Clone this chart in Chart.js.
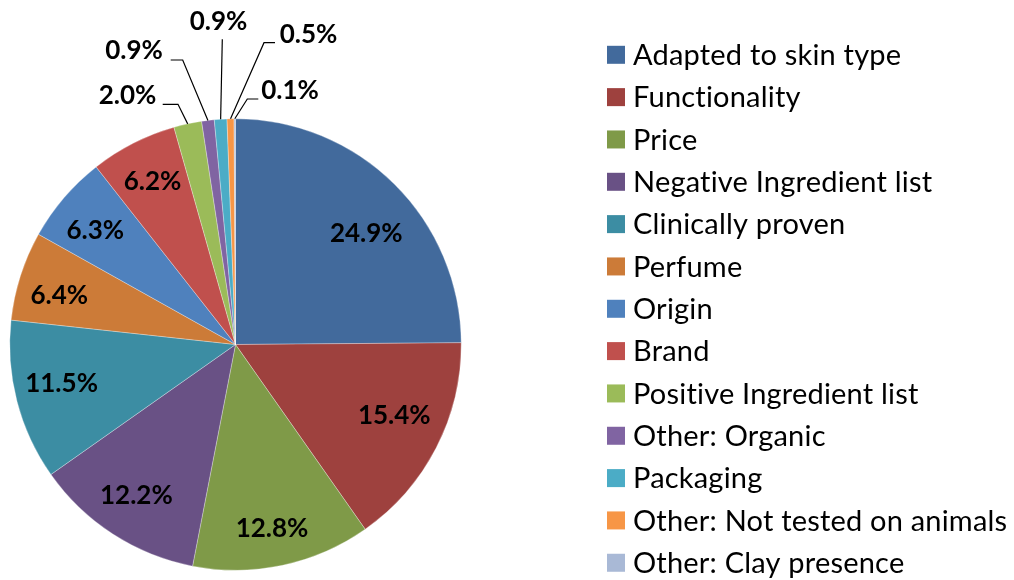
<!DOCTYPE html>
<html>
<head>
<meta charset="utf-8">
<script src="https://cdn.jsdelivr.net/npm/chart.js@4.4.1/dist/chart.umd.min.js"></script>
<style>
  html, body { margin: 0; padding: 0; background: #ffffff; }
  #wrap { width: 1014px; height: 580px; position: relative; }
</style>
</head>
<body>
<div id="wrap"><canvas id="c" width="1014" height="580"></canvas></div>
<script>
// Purchase criteria, share of mentions (%)
const categories = [
  'Adapted to skin type', 'Functionality', 'Price', 'Negative Ingredient list',
  'Clinically proven', 'Perfume', 'Origin', 'Brand', 'Positive Ingredient list',
  'Other: Organic', 'Packaging', 'Other: Not tested on animals', 'Other: Clay presence'
];
const shares = [24.9, 15.4, 12.8, 12.2, 11.5, 6.4, 6.3, 6.2, 2.0, 0.9, 0.9, 0.5, 0.1];
const sliceColors = [
  '#426A9C', '#9E413E', '#7F9A48', '#695185', '#3C8DA3', '#CC7B38', '#4F81BD',
  '#C0504D', '#9BBB59', '#8064A2', '#4BACC6', '#F79646', '#A9B9D6'
];

const FONT = 'Lato, "Open Sans", "DejaVu Sans", sans-serif';

// Label placement for the larger slices: angle shift (deg) and fraction of radius
const insidePlacement = {
  0: [4.9, 0.76], 1: [-3.2, 0.77], 2: [0.8, 0.83], 3: [0.4, 0.80],
  4: [1.7, 0.79], 5: [-2.2, 0.81], 6: [-1.5, 0.80], 7: [0, 0.81]
};
// Callouts for the thin slices: label centre and elbow of the leader line
const calloutPlacement = {
  8:  { label: [127.5, 96],  elbow: [[162.7, 104.3], [178, 104.3]] },
  9:  { label: [134, 51],    elbow: [[170.7, 60], [182.7, 60]] },
  10: { label: [218.5, 22],  elbow: [[222.3, 39.3]] },
  11: { label: [308.5, 35],  elbow: [[275, 42.7], [264, 42.7]] },
  12: { label: [290, 91],    elbow: [[258.3, 99], [247.3, 99]] }
};

const pieLabels = {
  id: 'pieLabels',
  afterDatasetsDraw(chart) {
    const ctx = chart.ctx;
    const arcs = chart.getDatasetMeta(0).data;
    const values = chart.data.datasets[0].data;
    ctx.save();
    ctx.font = 'bold 26px ' + FONT;
    ctx.fillStyle = '#000000';
    ctx.textAlign = 'center';
    ctx.textBaseline = 'middle';
    arcs.forEach((arc, i) => {
      const p = arc.getProps(['x', 'y', 'startAngle', 'endAngle', 'outerRadius'], true);
      const mid = (p.startAngle + p.endAngle) / 2;
      const text = values[i].toFixed(1) + '%';
      if (insidePlacement[i]) {
        const [shift, frac] = insidePlacement[i];
        const a = mid + shift * Math.PI / 180;
        ctx.fillText(text, p.x + Math.cos(a) * p.outerRadius * frac,
                           p.y + Math.sin(a) * p.outerRadius * frac);
      } else if (calloutPlacement[i]) {
        const c = calloutPlacement[i];
        const ex = p.x + Math.cos(mid) * p.outerRadius;
        const ey = p.y + Math.sin(mid) * p.outerRadius;
        ctx.beginPath();
        ctx.strokeStyle = '#000000';
        ctx.lineWidth = 1.2;
        ctx.moveTo(c.elbow[0][0], c.elbow[0][1]);
        for (let k = 1; k < c.elbow.length; k++) ctx.lineTo(c.elbow[k][0], c.elbow[k][1]);
        ctx.lineTo(ex, ey);
        ctx.stroke();
        ctx.fillText(text, c.label[0], c.label[1]);
      }
    });
    ctx.restore();
  }
};

const sideLegend = {
  id: 'sideLegend',
  afterDraw(chart) {
    const ctx = chart.ctx;
    const labels = chart.data.labels;
    const colors = chart.data.datasets[0].backgroundColor;
    ctx.save();
    ctx.font = '29px ' + FONT;
    ctx.letterSpacing = '0.2px';
    ctx.textAlign = 'left';
    ctx.textBaseline = 'middle';
    labels.forEach((lab, i) => {
      const cy = 54.8 + i * 42.33;
      ctx.fillStyle = colors[i];
      ctx.fillRect(607, cy - 9, 18, 18);
      ctx.fillStyle = '#000000';
      ctx.fillText(lab, 633, cy + 1);
    });
    ctx.restore();
  }
};

new Chart(document.getElementById('c'), {
  type: 'pie',
  data: {
    labels: categories,
    datasets: [{
      data: shares,
      backgroundColor: sliceColors,
      borderColor: 'rgba(255,255,255,0.6)',
      borderWidth: 0.5
    }]
  },
  options: {
    responsive: false,
    animation: false,
    layout: { padding: { left: 9.5, right: 552.5, top: 118.5, bottom: 9.5 } },
    plugins: { legend: { display: false }, tooltip: { enabled: false } }
  },
  plugins: [pieLabels, sideLegend]
});
</script>
</body>
</html>
